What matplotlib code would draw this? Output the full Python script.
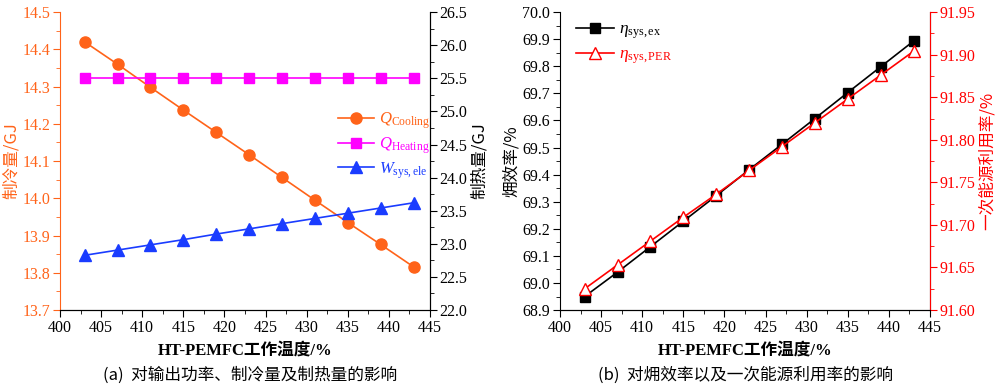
import matplotlib
matplotlib.use('Agg')
import matplotlib.pyplot as plt
from matplotlib.ticker import MultipleLocator, FormatStrFormatter

plt.rcParams['font.family'] = ['Liberation Serif', 'Noto Sans CJK SC', 'DejaVu Sans']
plt.rcParams['mathtext.fontset'] = 'custom'
plt.rcParams['mathtext.rm'] = 'Liberation Serif'
plt.rcParams['mathtext.it'] = 'Liberation Serif:italic'
plt.rcParams['mathtext.bf'] = 'Liberation Serif:bold'
plt.rcParams['font.size'] = 11

# data
temp = [403, 407, 411, 415, 419, 423, 427, 431, 435, 439, 443]
q_cooling = [14.420, 14.360, 14.298, 14.237, 14.177, 14.117, 14.056, 13.995, 13.935, 13.876, 13.816]
q_heating = [25.5] * 11
w_sys_ele = [13.847, 13.861, 13.875, 13.889, 13.904, 13.918, 13.932, 13.946, 13.960, 13.974, 13.988]
eta_ex = [68.950, 69.040, 69.134, 69.228, 69.322, 69.418, 69.512, 69.607, 69.703, 69.798, 69.893]
eta_per = [91.625, 91.653, 91.681, 91.709, 91.736, 91.764, 91.792, 91.820, 91.848, 91.876, 91.904]

orange = '#FF6319'
magenta = '#FF00FF'
blue = '#1A3CFF'
red = '#FF0000'
cjk = ['Noto Sans CJK SC', 'DejaVu Sans']

fig = plt.figure(figsize=(10, 3.9), dpi=100)
ax1 = fig.add_axes([0.060, 0.205, 0.370, 0.764])
ax3 = fig.add_axes([0.560, 0.205, 0.370, 0.764])


def style_x(ax):
    ax.set_xlim(400, 445)
    ax.xaxis.set_major_locator(MultipleLocator(5))
    ax.xaxis.set_minor_locator(MultipleLocator(2.5))
    ax.set_xlabel('HT-PEMFC工作温度/%', fontsize=12, fontweight='bold', labelpad=5)
    ax.tick_params(axis='x', which='both', direction='out', top=False)
    ax.spines['top'].set_visible(False)


# ---- (a)
style_x(ax1)
ax1.plot(temp, q_cooling, color=orange, marker='o', ms=8, lw=1.2, label=r'$Q_{\mathrm{Cooling}}$')
ax1.set_ylim(13.7, 14.5)
ax1.yaxis.set_major_locator(MultipleLocator(0.1))
ax1.yaxis.set_minor_locator(MultipleLocator(0.05))
ax1.yaxis.set_major_formatter(FormatStrFormatter('%.1f'))
ax1.tick_params(axis='y', which='both', colors=orange)
ax1.spines['left'].set_color(orange)
ax1.set_ylabel('制冷量/GJ', color=orange, family=cjk, fontsize=12, labelpad=2)

ax2 = ax1.twinx()
ax2.plot(temp, q_heating, color=magenta, marker='s', ms=7, lw=1.2, label=r'$Q_{\mathrm{Heating}}$')
ax2.set_ylim(22.0, 26.5)
ax2.yaxis.set_major_locator(MultipleLocator(0.5))
ax2.yaxis.set_minor_locator(MultipleLocator(0.25))
ax2.yaxis.set_major_formatter(FormatStrFormatter('%.1f'))
ax2.spines['top'].set_visible(False)
ax2.spines['left'].set_visible(False)
ax2.set_ylabel('制热量/GJ', family=cjk, fontsize=12, labelpad=2)
ax1.plot(temp, w_sys_ele, color=blue, marker='^', ms=8, lw=1.2, label=r'$W_{\mathrm{sys,ele}}$')

h1, l1 = ax1.get_legend_handles_labels()
h2, l2 = ax2.get_legend_handles_labels()
handles = [h1[0], h2[0], h1[1]]
labels = [l1[0], l2[0], l1[1]]
leg = ax2.legend(handles, labels, loc='upper left', bbox_to_anchor=(0.71, 0.72), frameon=False,
                 fontsize=12, handlelength=2.2, labelspacing=0.25, handletextpad=0.3)
for txt, c in zip(leg.get_texts(), [orange, magenta, blue]):
    txt.set_color(c)

# ---- (b)
style_x(ax3)
ax3.plot(temp, eta_ex, color='black', marker='s', ms=7, lw=1.2, label=r'$\eta_{\mathrm{sys,ex}}$')
ax3.set_ylim(68.9, 70.0)
ax3.yaxis.set_major_locator(MultipleLocator(0.1))
ax3.yaxis.set_minor_locator(MultipleLocator(0.05))
ax3.yaxis.set_major_formatter(FormatStrFormatter('%.1f'))
ax3.set_ylabel('\u3db2效率/%', family=cjk, fontsize=12, labelpad=2)

ax4 = ax3.twinx()
ax4.plot(temp, eta_per, color=red, marker='^', ms=8, mfc='white', mec=red, lw=1.2,
         label=r'$\eta_{\mathrm{sys,PER}}$')
ax4.set_ylim(91.60, 91.95)
ax4.yaxis.set_major_locator(MultipleLocator(0.05))
ax4.yaxis.set_minor_locator(MultipleLocator(0.025))
ax4.yaxis.set_major_formatter(FormatStrFormatter('%.2f'))
ax4.tick_params(axis='y', which='both', colors=red)
ax4.spines['right'].set_color(red)
ax4.spines['top'].set_visible(False)
ax4.spines['left'].set_visible(False)
ax4.set_ylabel('一次能源利用率/%', color=red, family=cjk, fontsize=12, labelpad=2)

h3, l3 = ax3.get_legend_handles_labels()
h4, l4 = ax4.get_legend_handles_labels()
leg2 = ax4.legend(h3 + h4, l3 + l4, loc='upper left', bbox_to_anchor=(0.0, 1.02), frameon=False,
                  fontsize=12.5, handlelength=2.2, labelspacing=0.3, handletextpad=0.3)
for txt, c in zip(leg2.get_texts(), ['black', red]):
    txt.set_color(c)

for ax in (ax1, ax2, ax3, ax4):
    ax.tick_params(which='major', length=5, pad=2, labelsize=11.5,
                   labelfontfamily='Liberation Serif')
    ax.tick_params(which='minor', length=3)

fig.text(0.25, 0.038, '(a)  对输出功率、制冷量及制热量的影响', ha='center', va='center',
         family=cjk, fontsize=12)
fig.text(0.745, 0.038, '(b)  对\u3db2效率以及一次能源利用率的影响', ha='center', va='center',
         family=cjk, fontsize=12)

fig.savefig('out.png', dpi=100)
